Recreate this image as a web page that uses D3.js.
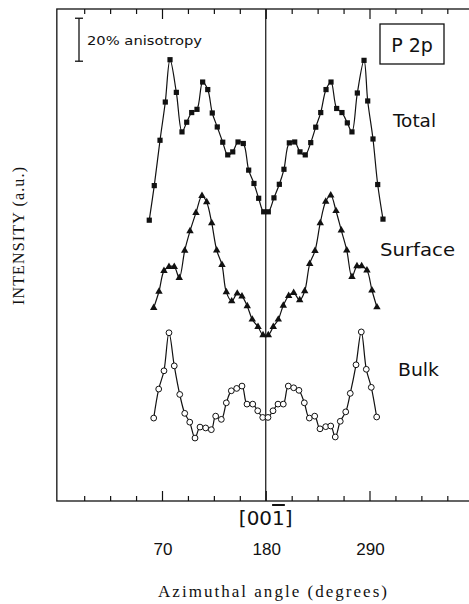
<!DOCTYPE html>
<html>
<head>
<meta charset="utf-8">
<script src="https://cdn.jsdelivr.net/npm/d3@7"></script>
<style>
  body { margin: 0; background: #fff; }
  svg { display: block; }
  .curve { fill: none; stroke: #111; stroke-width: 1.2; }
  .lbl { font-family: "DejaVu Sans", sans-serif; fill: #111; }
  .serif { font-family: "Liberation Serif", serif; fill: #111; }
</style>
</head>
<body>
<div class="chart"></div>
<script>

// Data (angle in degrees, intensity in % units)
var totalAngle = [56.5, 61.8, 67.9, 73.5, 78.5, 85.2, 91.2, 96.2, 101.5, 107.1, 113.1, 118.5,
  123.3, 128.6, 134.4, 139.7, 145.0, 150.6, 156.2, 161.9, 167.5, 172.5, 177.8,
  182.7, 188.7, 194.4, 199.3, 205.0, 210.7, 216.3, 221.9, 227.7, 233.0, 238.3, 243.9,
  249.2, 255.2, 260.8, 266.5, 271.4, 277.1, 284.2, 288.1, 293.7, 298.7, 304.3];
var totalValue = [130.7, 146.8, 167.9, 185.7, 205.4, 190.2, 171.8, 176.3, 180.8, 182.3, 195.0, 191.5,
  180.6, 174.1, 167.0, 161.1, 162.5, 167.1, 166.4, 154.0, 147.8, 140.9, 134.6,
  134.6, 141.1, 147.4, 154.4, 166.7, 167.1, 162.5, 161.1, 166.8, 174.0, 180.8, 191.5,
  195.0, 182.7, 180.8, 176.0, 171.8, 189.9, 205.1, 186.2, 168.5, 147.3, 131.2];

var surfaceAngle = [61.2, 66.8, 72.1, 77.4, 83.0, 88.3, 94.1, 99.7, 106.0, 112.4, 117.4, 122.7,
  128.0, 133.6, 138.2, 143.9, 149.8, 154.8, 160.4, 165.7, 171.8, 177.1,
  182.7, 188.0, 193.3, 198.6, 204.3, 209.6, 216.0, 221.3, 226.6, 232.2, 237.8, 243.6,
  248.9, 254.5, 260.1, 265.9, 271.4, 276.7, 281.7, 287.3, 292.6, 297.9];
var surfaceValue = [89.9, 97.5, 107.1, 109.0, 109.0, 103.9, 116.6, 125.6, 134.1, 142.0, 139.1, 129.4,
  116.7, 109.9, 97.2, 93.0, 96.6, 95.3, 90.7, 84.5, 81.1, 77.2,
  77.2, 81.1, 84.5, 91.0, 95.5, 96.9, 93.5, 97.7, 110.4, 116.4, 129.4, 139.4,
  142.3, 135.0, 126.0, 116.7, 104.3, 109.3, 109.3, 107.4, 98.1, 90.2];

var bulkAngle = [61.2, 66.5, 72.1, 77.4, 83.0, 88.8, 94.1, 99.4, 105.0, 110.3, 116.3, 122.3,
  126.9, 132.9, 138.2, 143.5, 149.2, 154.8, 160.1, 166.2, 171.5, 176.8,
  182.4, 187.7, 193.0, 198.6, 203.9, 209.6, 215.2, 220.9, 226.2, 231.9, 237.5, 243.6,
  248.9, 253.7, 259.0, 264.8, 269.6, 275.7, 281.3, 286.6, 291.9, 297.6];
var bulkValue = [38.6, 52.1, 60.6, 78.3, 62.9, 49.6, 40.8, 36.7, 29.3, 34.4, 34.0, 33.2,
  39.5, 38.0, 45.7, 51.3, 52.4, 53.5, 45.1, 45.1, 42.0, 38.9,
  38.9, 42.0, 45.1, 45.1, 53.5, 52.7, 51.5, 45.7, 38.6, 39.5, 33.6, 34.6,
  34.9, 29.8, 37.1, 41.5, 50.1, 63.4, 78.7, 61.3, 52.9, 39.1];

var majorTicks = [70, 180, 290];
var minorTicks = [-12.5, 15, 42.5, 97.5, 125, 152.5, 207.5, 235, 262.5, 317.5, 345, 372.5];
var tickLabels = ["70", "180", "290"];

var xDomain = [-41.5, 415];
var yDomain = [0, 229];
var barBottom = 204.7;   // bottom of the 20% anisotropy bar
var barSize = 20;

var width = 469,
    height = 604;

var svg = d3.select(".chart")
	.append("svg")
	.attr("width", width)
	.attr("height", height)

var x = d3.scaleLinear()
	.domain([70, 290])
	.range([162, 369.5])

var y = d3.scaleLinear()
	.domain(yDomain)
	.range([501, 9])

var xLeft = x(xDomain[0]),
    xRight = x(xDomain[1]),
    yTop = y(yDomain[1]),
    yBottom = y(yDomain[0]);

// frame (right side runs off the page)
svg.append("rect")
	.attr("x", xLeft)
	.attr("y", yTop)
	.attr("width", xRight - xLeft)
	.attr("height", yBottom - yTop)
	.attr("fill", "none")
	.attr("stroke", "#111")
	.attr("stroke-width", 1.3)

// ticks, pointing into the frame
function addTicks(vals, size) {
	svg.append("g")
		.attr("transform", "translate(0," + yBottom + ")")
		.call(d3.axisTop(x).tickValues(vals).tickSize(size).tickFormat(""))
		.call(function(g) { g.select(".domain").remove(); })
	svg.append("g")
		.attr("transform", "translate(0," + yTop + ")")
		.call(d3.axisBottom(x).tickValues(vals).tickSize(size).tickFormat(""))
		.call(function(g) { g.select(".domain").remove(); })
}
addTicks(minorTicks, 5)
addTicks(majorTicks, 10)
svg.selectAll(".tick line").attr("stroke", "#111").attr("stroke-width", 1.2)

// [001] line
svg.append("line")
	.attr("x1", x(180)).attr("x2", x(180))
	.attr("y1", yTop).attr("y2", yBottom)
	.attr("stroke", "#111")
	.attr("stroke-width", 1.2)

// curves
var series = [
	{name: "total", angle: totalAngle, value: totalValue},
	{name: "surface", angle: surfaceAngle, value: surfaceValue},
	{name: "bulk", angle: bulkAngle, value: bulkValue}
];

var line = d3.line()
	.x(function(d) { return x(d[0]); })
	.y(function(d) { return y(d[1]); })
	.curve(d3.curveCatmullRom.alpha(0.5));

series.forEach(function(s) {
	s.points = s.angle.map(function(a, i) { return [a, s.value[i]]; });
	svg.append("path")
		.datum(s.points)
		.attr("class", "curve")
		.attr("d", line)
});

svg.selectAll(".sq")
	.data(series[0].points)
	.enter().append("rect")
	.attr("class", "sq")
	.attr("x", function(d) { return x(d[0]) - 2.6; })
	.attr("y", function(d) { return y(d[1]) - 2.6; })
	.attr("width", 5.2)
	.attr("height", 5.2)
	.attr("fill", "#111")

var tri = d3.symbol().type(d3.symbolTriangle).size(24);
svg.selectAll(".tri")
	.data(series[1].points)
	.enter().append("path")
	.attr("class", "tri")
	.attr("d", tri)
	.attr("transform", function(d) { return "translate(" + x(d[0]) + "," + y(d[1]) + ")"; })
	.attr("fill", "#111")

svg.selectAll(".ring")
	.data(series[2].points)
	.enter().append("circle")
	.attr("class", "ring")
	.attr("cx", function(d) { return x(d[0]); })
	.attr("cy", function(d) { return y(d[1]); })
	.attr("r", 2.9)
	.attr("fill", "#fff")
	.attr("stroke", "#111")
	.attr("stroke-width", 1)

// 20% anisotropy bar
var bx = 79;
svg.append("line")
	.attr("x1", bx).attr("x2", bx)
	.attr("y1", y(barBottom)).attr("y2", y(barBottom + barSize))
	.attr("stroke", "#111").attr("stroke-width", 1.3)
;[barBottom, barBottom + barSize].forEach(function(v) {
	svg.append("line")
		.attr("x1", bx - 4).attr("x2", bx + 4)
		.attr("y1", y(v)).attr("y2", y(v))
		.attr("stroke", "#111").attr("stroke-width", 1.3)
})
svg.append("text")
	.attr("class", "lbl")
	.attr("x", 87).attr("y", 45)
	.attr("font-size", 13)
	.attr("textLength", 115)
	.attr("lengthAdjust", "spacingAndGlyphs")
	.text("20% anisotropy")

// P 2p box
svg.append("rect")
	.attr("x", 380).attr("y", 24)
	.attr("width", 64).attr("height", 40)
	.attr("fill", "none")
	.attr("stroke", "#111")
	.attr("stroke-width", 1.3)
svg.append("text")
	.attr("class", "lbl")
	.attr("x", 412).attr("y", 51.5)
	.attr("text-anchor", "middle")
	.attr("font-size", 19)
	.text("P 2p")

// series names
var names = [
	{t: "Total", x: 393, y: 127, w: 43},
	{t: "Surface", x: 380, y: 256, w: 75},
	{t: "Bulk", x: 398, y: 376, w: 41}
];
svg.selectAll(".name")
	.data(names)
	.enter().append("text")
	.attr("class", "lbl name")
	.attr("x", function(d) { return d.x; })
	.attr("y", function(d) { return d.y; })
	.attr("font-size", 17)
	.attr("textLength", function(d) { return d.w; })
	.attr("lengthAdjust", "spacingAndGlyphs")
	.text(function(d) { return d.t; })

// bottom labels
var dir = svg.append("text")
	.attr("class", "lbl")
	.attr("x", x(180)).attr("y", 525)
	.attr("text-anchor", "middle")
	.attr("font-size", 20)
dir.append("tspan").text("[00")
dir.append("tspan").style("text-decoration", "overline").text("1")
dir.append("tspan").text("]")

svg.selectAll(".tl")
	.data(majorTicks)
	.enter().append("text")
	.attr("class", "lbl tl")
	.attr("x", function(d) { return x(d) + 1; })
	.attr("y", 555)
	.attr("text-anchor", "middle")
	.attr("font-size", 17)
	.style("font-family", "'Liberation Sans', sans-serif")
	.text(function(d, i) { return tickLabels[i]; })

svg.append("text")
	.attr("class", "serif")
	.attr("x", 158).attr("y", 597)
	.attr("font-size", 17)
	.attr("textLength", 229)
	.attr("lengthAdjust", "spacing")
	.text("Azimuthal angle (degrees)")

svg.append("text")
	.attr("class", "serif")
	.attr("transform", "translate(24,305) rotate(-90)")
	.attr("font-size", 16)
	.attr("textLength", 138)
	.attr("lengthAdjust", "spacing")
	.text("INTENSITY (a.u.)")

</script>
</body>
</html>
